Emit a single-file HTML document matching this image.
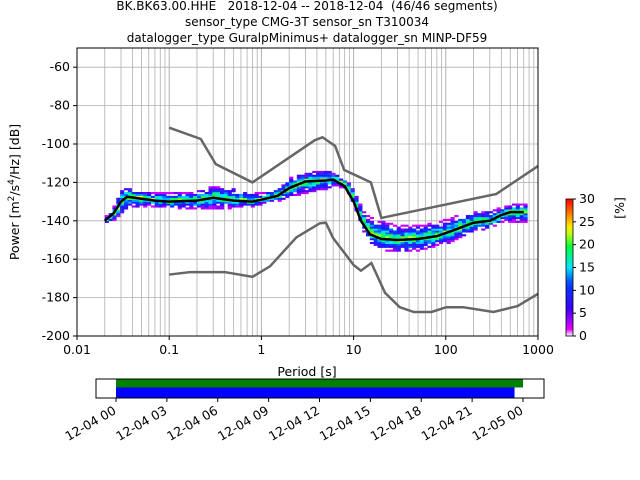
<!DOCTYPE html>
<html><head><meta charset="utf-8"><style>
body{margin:0;background:#fff;}
svg{display:block;font-family:"DejaVu Sans","Liberation Sans",sans-serif;}
text{white-space:pre;}
</style></head><body>
<svg id="c" width="640" height="480" viewBox="0 0 640 480"></svg>
<script>
const titleLines=["BK.BK63.00.HHE   2018-12-04 -- 2018-12-04  (46/46 segments)","sensor_type CMG-3T sensor_sn T310034","datalogger_type GuralpMinimus+ datalogger_sn MINP-DF59"];
const yTicks=[-60,-80,-100,-120,-140,-160,-180,-200];
const xTickVals=[0.01,0.1,1,10,100,1000];
const xTickLabels=["0.01","0.1","1","10","100","1000"];
const cbTicks=[0,5,10,15,20,25,30];
const dateLabels=["12-04 00","12-04 03","12-04 06","12-04 09","12-04 12","12-04 15","12-04 18","12-04 21","12-05 00"];
const nhnmP=[0.1,0.22,0.32,0.8,3.8,4.6,6.3,7.9,15.4,20,354,1000];
const nhnmV=[-91.5,-97.4,-110.5,-120,-98,-96.5,-101,-113.5,-120,-138.5,-126,-111.5];
const nlnmP=[0.1,0.17,0.4,0.8,1.24,2.4,4.3,5,6,10,12,15.6,21.9,31.6,45,70,101,154,328,600,1000];
const nlnmV=[-168,-166.7,-166.7,-169.2,-163.7,-148.6,-141.3,-141,-149,-163,-166,-162,-177.5,-185,-187.5,-187.5,-185,-185,-187.5,-184.4,-178];
const meanP=[0.02,0.025,0.03,0.035,0.05,0.07,0.1,0.2,0.3,0.5,0.8,1,1.5,2,3,5,6,8,10,12,15,20,30,50,80,120,200,300,400,500,700];
const meanV=[-140,-136,-130,-127.5,-128.5,-129.5,-130,-129.5,-128,-129.5,-130,-129,-127,-123,-119.5,-119,-118.5,-122,-130,-140,-147,-149.5,-150,-149.5,-148,-145,-141,-140,-137,-135.5,-135.5];
const upV=[-138,-132,-122,-123,-125,-126,-126,-125,-122,-124,-126,-126,-123,-118,-115,-114,-116,-119,-126,-135,-139,-141,-143,-143,-141,-138,-136,-135,-133,-132,-132];
const loV=[-142,-140,-136,-134,-133,-133,-134,-134,-134,-134,-133,-132,-130,-128,-126,-124,-122,-124,-134,-146,-153,-156,-157,-156,-154,-151,-146,-144,-141,-141,-141];
const timeStart=[0,0];const timeEnd=[24,23.5];const timeColor=["green","blue"];
const NS="http://www.w3.org/2000/svg",svg=document.getElementById("c");
function el(t,a,p){const e=document.createElementNS(NS,t);for(const k in a)e.setAttribute(k,a[k]);(p||svg).appendChild(e);return e;}
const X0=77,X1=538,Y0=48,Y1=336;
const xs=p=>X0+(Math.log10(p)+2)/5*(X1-X0);
const ys=v=>Y0+(-50-v)/150*(Y1-Y0);
function interp(P,V,p){const l=Math.log10(p);for(let i=0;i<P.length-1;i++){const a=Math.log10(P[i]),b=Math.log10(P[i+1]);if(l>=a&&l<=b)return V[i]+(V[i+1]-V[i])*(l-a)/(b-a);}return null;}
const grid=el("g",{});
for(let d=-2;d<3;d++)for(let m=1;m<10;m++){const x=xs(m*Math.pow(10,d));el("line",{x1:x,x2:x,y1:Y0,y2:Y1,stroke:"#b0b0b0","stroke-width":m==1?1:0.8},grid);}
yTicks.forEach(v=>el("line",{x1:X0,x2:X1,y1:ys(v),y2:ys(v),stroke:"#b0b0b0","stroke-width":0.8},grid));
function cmap(f){const st=[[0,[255,255,255]],[0.05,[230,0,255]],[0.2,[60,0,255]],[0.38,[0,60,255]],[0.5,[0,230,255]],[0.65,[0,255,60]],[0.78,[255,255,0]],[1,[255,0,0]]];for(let i=0;i<st.length-1;i++)if(f<=st[i+1][0]){const t=(f-st[i][0])/(st[i+1][0]-st[i][0]);const a=st[i][1],b=st[i+1][1];return `rgb(${a.map((c,j)=>Math.round(c+(b[j]-c)*t)).join(",")})`;}return "rgb(255,0,0)";}
const hm=el("g",{});
const step=1/24;
function hsh(a,b){let h=(a*374761393+b*668265263)|0;h=(h^(h>>>13))*1274126177|0;return ((h^(h>>>16))>>>0)/4294967296;}
let ci=0;
for(let l=Math.log10(0.02);l<=Math.log10(700);l+=step){ci++;const p=Math.pow(10,l);const m=interp(meanP,meanV,p),u=interp(meanP,upV,p),lo=interp(meanP,loV,p);if(m===null)continue;
 for(let v=Math.ceil(lo);v<=Math.floor(u);v+=1){const d=v>=m?(v-m)/Math.max(u-m,1):(m-v)/Math.max(m-lo,1);const r=hsh(ci,v+300);
 if(d>0.6&&r<0.3)continue;
 let f=Math.max(0.07,0.7*(1-d)-0.15+0.3*r);
 el("rect",{x:xs(p),y:ys(v+1),width:(X1-X0)/5*step+0.3,height:(Y1-Y0)/150+0.2,fill:cmap(f)},hm);}}
function poly(P,V,name,col,w){const e=el("polyline",{points:P.map((p,i)=>xs(p)+","+ys(V[i])).join(" "),fill:"none",stroke:col,"stroke-width":w});}
poly(nhnmP,nhnmV,"nhnm-line","#666",2.5);poly(nlnmP,nlnmV,"nlnm-line","#666",2.5);poly(meanP,meanV,"mean-line","#000",2.5);
el("rect",{x:X0,y:Y0,width:X1-X0,height:Y1-Y0,fill:"none",stroke:"#000"});
yTicks.forEach(v=>{el("line",{x1:X0-4,x2:X0,y1:ys(v),y2:ys(v),stroke:"#000"});const t=el("text",{x:X0-7,y:ys(v)+4,"text-anchor":"end","font-size":12.5});t.textContent=v;});
xTickVals.forEach((p,i)=>{el("line",{x1:xs(p),x2:xs(p),y1:Y1,y2:Y1+4,stroke:"#000"});const t=el("text",{x:xs(p),y:Y1+18,"text-anchor":"middle","font-size":12.5});t.textContent=xTickLabels[i];});
let t=el("text",{x:307,y:376,"text-anchor":"middle","font-size":12.5});t.textContent="Period [s]";
t=el("text",{transform:"translate(19,192) rotate(-90)","text-anchor":"middle","font-size":12.5});t.innerHTML='Power [m<tspan dy="-5" font-size="9">2</tspan><tspan dy="5">/s</tspan><tspan dy="-5" font-size="9">4</tspan><tspan dy="5">/Hz] [dB]</tspan>';
titleLines.forEach((s,i)=>{const e=el("text",{x:307,y:10+i*16,"text-anchor":"middle","font-size":12});e.textContent=s;});
const CB0=199,CB1=336,cx=566,cw=7;
const defs=el("defs",{});const g=el("linearGradient",{id:"cg",x1:0,y1:1,x2:0,y2:0},defs);
for(let i=0;i<=20;i++)el("stop",{offset:i/20,"stop-color":cmap(i/20)},g);
const cb=el("rect",{x:cx,y:CB0,width:cw,height:CB1-CB0,fill:"url(#cg)",stroke:"#000","stroke-width":0.8});
cbTicks.forEach(v=>{const y=CB1-(v/30)*(CB1-CB0);el("line",{x1:cx+cw,x2:cx+cw+3,y1:y,y2:y,stroke:"#000"});const e=el("text",{x:cx+cw+6,y:y+4,"font-size":12.5});e.textContent=v;});
t=el("text",{transform:"translate(624,208) rotate(-90)","text-anchor":"middle","font-size":12.5});t.textContent="[%]";
const T0=116,T1=523,tx=h=>T0+h/24*(T1-T0);
timeStart.forEach((s,i)=>{const r=el("rect",{x:tx(s),y:i==0?379:387.5,width:tx(timeEnd[i])-tx(s),height:i==0?8.5:10.5,fill:timeColor[i]});});
el("rect",{x:96,y:379,width:448,height:19,fill:"none",stroke:"#000"});
dateLabels.forEach((s,i)=>{const x=tx(i*3);el("line",{x1:x,x2:x,y1:398,y2:402,stroke:"#000"});const e=el("text",{transform:`translate(${x+1},413) rotate(-30)`,"text-anchor":"end","font-size":12.5});e.textContent=s;});
</script>
</body></html>
